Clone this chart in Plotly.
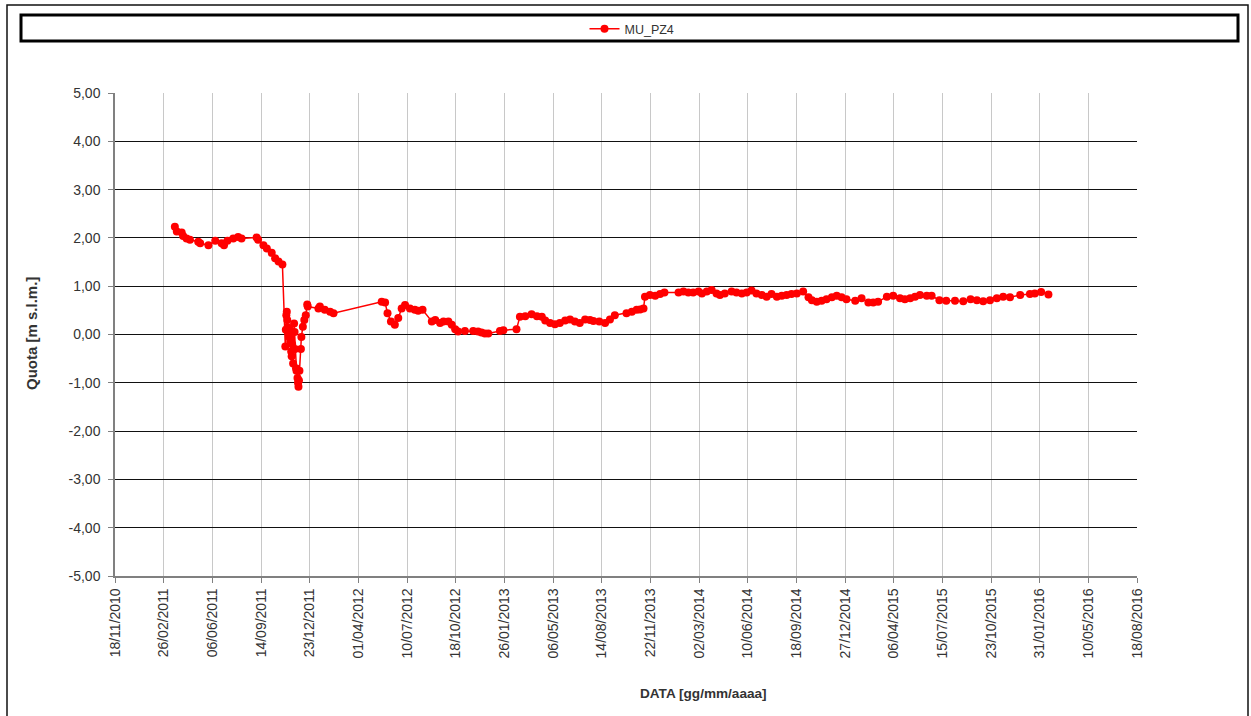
import plotly.graph_objects as go

# ─── data ─────────────────────────────────────────────────────
dates = [
    "2011-03-21", "2011-03-25", "2011-04-04", "2011-04-07", "2011-04-14", "2011-04-21",
    "2011-05-08", "2011-05-12", "2011-05-29", "2011-06-12", "2011-06-25", "2011-06-30",
    "2011-07-07", "2011-07-19", "2011-07-29", "2011-08-05", "2011-09-05", "2011-09-08",
    "2011-09-19", "2011-09-26", "2011-10-06", "2011-10-13", "2011-10-20", "2011-10-28",
    "2011-11-03", "2011-11-04", "2011-11-05", "2011-11-06", "2011-11-07", "2011-11-08",
    "2011-11-09", "2011-11-11", "2011-11-12", "2011-11-13", "2011-11-15", "2011-11-16",
    "2011-11-17", "2011-11-19", "2011-11-21", "2011-11-22", "2011-11-23", "2011-11-25",
    "2011-11-26", "2011-11-28", "2011-11-29", "2011-11-30", "2011-12-01", "2011-12-02",
    "2011-12-05", "2011-12-06", "2011-12-09", "2011-12-12", "2011-12-15", "2011-12-18",
    "2011-12-19", "2012-01-10", "2012-01-13", "2012-01-23", "2012-02-03", "2012-02-10",
    "2012-05-19", "2012-05-26", "2012-05-31", "2012-06-07", "2012-06-15", "2012-06-22",
    "2012-06-29", "2012-07-06", "2012-07-16", "2012-07-26", "2012-08-02", "2012-08-11",
    "2012-08-30", "2012-09-06", "2012-09-16", "2012-09-23", "2012-10-03", "2012-10-10",
    "2012-10-17", "2012-10-23", "2012-11-06", "2012-11-23", "2012-12-03", "2012-12-10",
    "2012-12-17", "2012-12-24", "2013-01-17", "2013-01-24", "2013-02-20", "2013-02-27",
    "2013-03-10", "2013-03-23", "2013-04-03", "2013-04-13", "2013-04-20", "2013-04-30",
    "2013-05-10", "2013-05-20", "2013-05-31", "2013-06-10", "2013-06-20", "2013-06-30",
    "2013-07-11", "2013-07-21", "2013-07-28", "2013-08-09", "2013-08-21", "2013-08-31",
    "2013-09-10", "2013-10-04", "2013-10-15", "2013-10-25", "2013-11-01", "2013-11-08",
    "2013-11-11", "2013-11-21", "2013-12-02", "2013-12-12", "2013-12-21", "2014-01-19",
    "2014-01-29", "2014-02-08", "2014-02-18", "2014-03-01", "2014-03-08", "2014-03-18",
    "2014-03-28", "2014-04-07", "2014-04-14", "2014-04-24", "2014-05-08", "2014-05-18",
    "2014-05-29", "2014-06-08", "2014-06-18", "2014-06-28", "2014-07-09", "2014-07-19",
    "2014-07-29", "2014-08-09", "2014-08-19", "2014-08-29", "2014-09-08", "2014-09-19",
    "2014-10-02", "2014-10-13", "2014-10-20", "2014-10-30", "2014-11-09", "2014-11-19",
    "2014-11-30", "2014-12-10", "2014-12-20", "2014-12-30", "2015-01-17", "2015-01-30",
    "2015-02-13", "2015-02-23", "2015-03-05", "2015-03-23", "2015-04-05", "2015-04-19",
    "2015-04-29", "2015-05-10", "2015-05-20", "2015-05-30", "2015-06-13", "2015-06-23",
    "2015-07-09", "2015-07-23", "2015-08-10", "2015-08-27", "2015-09-11", "2015-09-24",
    "2015-10-07", "2015-10-21", "2015-11-04", "2015-11-17", "2015-12-01", "2015-12-22",
    "2016-01-11", "2016-01-21", "2016-02-03", "2016-02-18",
]
quota = [
    2.23, 2.13, 2.11, 2.04, 1.99, 1.96,
    1.92, 1.89, 1.85, 1.94, 1.89, 1.85,
    1.94, 1.99, 2.02, 1.99, 2.01, 1.96,
    1.85, 1.78, 1.69, 1.58, 1.51, 1.45,
    -0.25, 0.10, 0.40, 0.47, 0.30, 0.15,
    0.05, -0.05, 0.10, -0.15, -0.35, -0.45,
    -0.20, -0.60, 0.23, 0.05, -0.30, -0.70,
    -0.75, -0.90, -1.00, -1.08, -0.95, -0.75,
    -0.30, -0.05, 0.16, 0.30, 0.40, 0.62,
    0.58, 0.54, 0.58, 0.51, 0.47, 0.44,
    0.68, 0.66, 0.44, 0.27, 0.20, 0.34,
    0.54, 0.61, 0.54, 0.51, 0.49, 0.51,
    0.27, 0.30, 0.24, 0.27, 0.27, 0.20,
    0.11, 0.06, 0.07, 0.07, 0.06, 0.04,
    0.02, 0.02, 0.07, 0.09, 0.11, 0.37,
    0.38, 0.42, 0.38, 0.37, 0.29, 0.24,
    0.21, 0.24, 0.29, 0.31, 0.27, 0.24,
    0.31, 0.30, 0.28, 0.27, 0.24, 0.31,
    0.40, 0.44, 0.47, 0.51, 0.52, 0.54,
    0.78, 0.82, 0.80, 0.84, 0.87, 0.87,
    0.89, 0.87, 0.87, 0.89, 0.85, 0.89,
    0.92, 0.85, 0.82, 0.85, 0.89, 0.87,
    0.85, 0.87, 0.91, 0.85, 0.82, 0.78,
    0.84, 0.78, 0.80, 0.82, 0.84, 0.85,
    0.89, 0.77, 0.71, 0.68, 0.70, 0.73,
    0.77, 0.80, 0.77, 0.73, 0.70, 0.75,
    0.66, 0.66, 0.68, 0.78, 0.80, 0.75,
    0.73, 0.75, 0.78, 0.82, 0.80, 0.80,
    0.71, 0.70, 0.70, 0.69, 0.73, 0.71,
    0.69, 0.71, 0.75, 0.78, 0.77, 0.82,
    0.84, 0.85, 0.88, 0.83,
]
series_name = "MU_PZ4"
y_ticks = [-5, -4, -3, -2, -1, 0, 1, 2, 3, 4, 5]
y_tick_labels = ["-5,00", "-4,00", "-3,00", "-2,00", "-1,00", "0,00",
                 "1,00", "2,00", "3,00", "4,00", "5,00"]

FONT = "Liberation Sans, Arial, sans-serif"
TXT = "#333"

# plot area in page pixels: x 115..1137, y 93..576
def px(x):
    return (x - 115) / 1022

def py(y):
    return (576 - y) / 483

fig = go.Figure(go.Scatter(
    x=dates, y=quota, name=series_name, mode="lines+markers",
    line=dict(color="#ff0000", width=1.5),
    marker=dict(color="#ff0000", size=8, symbol="circle"),
))

fig.update_layout(
    width=1251, height=716,
    margin=dict(l=115, r=114, t=93, b=140),
    paper_bgcolor="white", plot_bgcolor="white",
    separators=",.",
    font=dict(family=FONT, size=14, color=TXT),
    showlegend=True,
    legend=dict(orientation="h", x=px(632), y=py(29), xanchor="center", yanchor="middle",
                font=dict(size=12.5, color=TXT), bgcolor="rgba(0,0,0,0)"),
    xaxis=dict(
        type="date", range=["2010-11-18", "2016-08-18"],
        tick0="2010-11-18", dtick=100 * 86400000, tickformat="%d/%m/%Y",
        tickangle=-90, showgrid=True, gridcolor="#c8c8c8", gridwidth=1,
        showline=True, linecolor="#808080", linewidth=1.5,
        ticks="outside", ticklen=5, tickcolor="#808080",
        tickfont=dict(size=14, color=TXT),
    ),
    yaxis=dict(
        range=[-5, 5], tickvals=y_ticks, ticktext=y_tick_labels,
        showgrid=True, gridcolor="#111", gridwidth=1,
        zeroline=True, zerolinecolor="#111", zerolinewidth=1,
        showline=True, linecolor="#808080", linewidth=1.5,
        ticks="outside", ticklen=5, tickcolor="#808080", ticklabelstandoff=5,
        tickfont=dict(size=14, color=TXT),
    ),
    annotations=[
        dict(text="<b>Quota [m s.l.m.]</b>", xref="paper", yref="paper",
             x=px(31), y=py(334), textangle=-90,
             showarrow=False, font=dict(size=15, color=TXT),
             xanchor="center", yanchor="middle"),
        dict(text="<b>DATA [gg/mm/aaaa]</b>", xref="paper", yref="paper",
             x=px(703), y=py(693),
             showarrow=False, font=dict(size=13.6, color=TXT),
             xanchor="center", yanchor="middle"),
    ],
    shapes=[
        # outer chart border
        dict(type="rect", xref="paper", yref="paper",
             x0=px(7), x1=px(1248), y0=py(730), y1=py(5),
             line=dict(color="#111", width=1.5), layer="below"),
        # legend frame
        dict(type="rect", xref="paper", yref="paper",
             x0=px(21), x1=px(1238), y0=py(41), y1=py(15),
             line=dict(color="black", width=3), layer="below"),
    ],
)

fig.write_html("out.html", config={"displayModeBar": False},
               post_script="document.body.style.margin='0';")
